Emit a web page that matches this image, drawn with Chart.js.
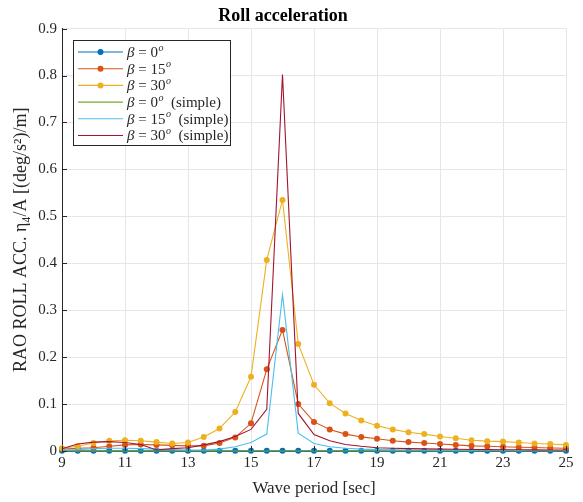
<!DOCTYPE html>
<html>
<head>
<meta charset="utf-8">
<script src="https://cdn.jsdelivr.net/npm/chart.js@4/dist/chart.umd.min.js"></script>
<style>
  html, body { margin: 0; padding: 0; background: #ffffff; }
  #c { display: block; }
</style>
</head>
<body>
<canvas id="c" width="583" height="502"></canvas>
<script>
// Wave periods [sec]
const periods = [9, 9.5, 10, 10.5, 11, 11.5, 12, 12.5, 13, 13.5, 14, 14.5, 15, 15.5, 16, 16.5,
                 17, 17.5, 18, 18.5, 19, 19.5, 20, 20.5, 21, 21.5, 22, 22.5, 23, 23.5, 24, 24.5, 25];

// Heading angles (deg)
const betaAngles = [0, 15, 30];

// Full model RAO, roll acceleration [(deg/s^2)/m]
const beta0 = [0.0003, 0.0003, 0.0003, 0.0003, 0.0003, 0.0003, 0.0003, 0.0003, 0.0003, 0.0003, 0.0003,
               0.0003, 0.0003, 0.0003, 0.0003, 0.0003, 0.0003, 0.0003, 0.0003, 0.0003, 0.0003, 0.0003,
               0.0003, 0.0003, 0.0003, 0.0003, 0.0003, 0.0003, 0.0003, 0.0003, 0.0003, 0.0003, 0.0003];
const beta15 = [0.004, 0.006, 0.007, 0.010, 0.013, 0.014, 0.013, 0.012, 0.011, 0.011, 0.017,
                0.029, 0.059, 0.174, 0.258, 0.100, 0.062, 0.046, 0.036, 0.030, 0.026, 0.022,
                0.019, 0.017, 0.015, 0.013, 0.011, 0.010, 0.009, 0.008, 0.0075, 0.0065, 0.006];
const beta30 = [0.006, 0.010, 0.017, 0.022, 0.023, 0.022, 0.019, 0.016, 0.018, 0.030, 0.048,
                0.083, 0.158, 0.407, 0.535, 0.228, 0.141, 0.102, 0.080, 0.065, 0.054, 0.046,
                0.040, 0.036, 0.031, 0.027, 0.023, 0.021, 0.020, 0.018, 0.016, 0.015, 0.013];

// Simplified model RAO
const beta0Simple = [0, 0, 0, 0, 0, 0, 0, 0, 0, 0, 0, 0, 0, 0, 0, 0, 0,
                     0, 0, 0, 0, 0, 0, 0, 0, 0, 0, 0, 0, 0, 0, 0, 0];
const beta15Simple = [0.002, 0.003, 0.005, 0.006, 0.006, 0.005, 0.004, 0.003, 0.002, 0.002, 0.004,
                      0.009, 0.018, 0.036, 0.333, 0.038, 0.016, 0.009, 0.006, 0.004, 0.003, 0.0025,
                      0.002, 0.002, 0.0018, 0.0016, 0.0015, 0.0014, 0.0013, 0.0012, 0.0011, 0.001, 0.001];
const beta30Simple = [0.005, 0.015, 0.019, 0.020, 0.018, 0.014, 0.002, 0.005, 0.007, 0.013, 0.020,
                      0.031, 0.046, 0.089, 0.802, 0.080, 0.035, 0.022, 0.014, 0.010, 0.007, 0.006,
                      0.005, 0.0045, 0.004, 0.0036, 0.0033, 0.003, 0.0028, 0.0026, 0.0024, 0.0022, 0.002];

// Axis ticks
const xTicks = [9, 11, 13, 15, 17, 19, 21, 23, 25];
const yTicks = [0, 0.1, 0.2, 0.3, 0.4, 0.5, 0.6, 0.7, 0.8, 0.9];

const colors = ['#0072BD', '#D95319', '#EDB120', '#77AC30', '#4DBEEE', '#A2142F'];
const SERIF = '"Liberation Serif", "DejaVu Serif", serif';
const AXIS_COLOR = '#262626';

const seriesDefs = [
  { values: beta0, angle: betaAngles[0], simple: false },
  { values: beta15, angle: betaAngles[1], simple: false },
  { values: beta30, angle: betaAngles[2], simple: false },
  { values: beta0Simple, angle: betaAngles[0], simple: true },
  { values: beta15Simple, angle: betaAngles[1], simple: true },
  { values: beta30Simple, angle: betaAngles[2], simple: true }
];

const datasets = seriesDefs.map((s, i) => ({
  label: 'β = ' + s.angle + '°' + (s.simple ? ' (simple)' : ''),
  angle: s.angle,
  simple: s.simple,
  data: periods.map((p, k) => ({ x: p, y: s.values[k] })),
  borderColor: colors[i],
  backgroundColor: colors[i],
  borderWidth: 1.1,
  pointRadius: s.simple ? 0 : 3,
  pointHoverRadius: s.simple ? 0 : 3,
  pointBorderWidth: 0,
  tension: 0,
  clip: false,
  order: seriesDefs.length - i   // later series are painted on top
}));

// Inward tick marks and the boxed legend
const decorations = {
  id: 'decorations',
  afterDatasetsDraw(chart) {
    const ctx = chart.ctx;
    const xs = chart.scales.x, ys = chart.scales.y;
    const area = chart.chartArea;
    ctx.save();
    ctx.strokeStyle = AXIS_COLOR;
    ctx.lineWidth = 1;
    ctx.beginPath();
    yTicks.forEach(v => {
      const y = Math.round(ys.getPixelForValue(v)) + 0.5;
      ctx.moveTo(area.left, y); ctx.lineTo(area.left + 5, y);
    });
    xTicks.forEach(v => {
      const x = Math.round(xs.getPixelForValue(v)) + 0.5;
      ctx.moveTo(x, area.bottom); ctx.lineTo(x, area.bottom - 5);
    });
    ctx.stroke();

    // legend box
    const bx = 73.5, by = 40.5, bw = 157, bh = 105;
    ctx.fillStyle = '#ffffff';
    ctx.fillRect(bx, by, bw, bh);
    ctx.strokeStyle = AXIS_COLOR;
    ctx.lineWidth = 1;
    ctx.strokeRect(bx, by, bw, bh);

    const rowH = 16.7;
    chart.data.datasets.forEach((ds, i) => {
      const y = by + 11.5 + i * rowH;
      ctx.strokeStyle = ds.borderColor;
      ctx.lineWidth = 1.1;
      ctx.beginPath();
      ctx.moveTo(78, y); ctx.lineTo(123, y);
      ctx.stroke();
      if (!ds.simple) {
        ctx.fillStyle = ds.backgroundColor;
        ctx.beginPath();
        ctx.arc(100.5, y, 3, 0, Math.PI * 2);
        ctx.fill();
      }
      // text: β = N^o (simple)
      ctx.fillStyle = AXIS_COLOR;
      ctx.textBaseline = 'middle';
      ctx.textAlign = 'left';
      let tx = 127;
      ctx.font = 'italic 15px ' + SERIF;
      ctx.fillText('β', tx, y + 1);
      tx += ctx.measureText('β').width;
      ctx.font = '15px ' + SERIF;
      const mid = ' = ' + ds.angle;
      ctx.fillText(mid, tx, y + 1);
      tx += ctx.measureText(mid).width;
      ctx.font = 'italic 10px ' + SERIF;
      ctx.fillText('o', tx + 0.5, y - 4);
      tx += ctx.measureText('o').width + 0.5;
      if (ds.simple) {
        ctx.font = '15px ' + SERIF;
        ctx.fillText('  (simple)', tx, y + 1);
      }
    });
    ctx.restore();
  }
};

new Chart(document.getElementById('c'), {
  type: 'line',
  data: { datasets },
  options: {
    responsive: false,
    animation: false,
    events: [],
    layout: { padding: { left: 0, right: 17, top: 0, bottom: 0 } },
    plugins: {
      legend: { display: false },
      tooltip: { enabled: false },
      title: {
        display: true,
        text: 'Roll acceleration',
        color: '#000000',
        font: { family: SERIF, size: 18, weight: 'bold' },
        padding: { top: 6, bottom: 1 }
      }
    },
    scales: {
      x: {
        type: 'linear',
        min: 9,
        max: 25,
        afterBuildTicks: s => { s.ticks = xTicks.map(v => ({ value: v })); },
        afterFit: s => { s.height = 51; },
        ticks: {
          color: AXIS_COLOR,
          font: { family: SERIF, size: 15 },
          padding: 3,
          maxRotation: 0,
          autoSkip: false,
          callback: v => String(v)
        },
        grid: { color: '#e6e6e6', lineWidth: 1, drawTicks: false },
        border: { color: AXIS_COLOR, width: 1 },
        title: {
          display: true,
          text: 'Wave period [sec]',
          color: AXIS_COLOR,
          font: { family: SERIF, size: 17 },
          padding: { top: 3, bottom: 3 }
        }
      },
      y: {
        type: 'linear',
        min: 0,
        max: 0.9,
        afterBuildTicks: s => { s.ticks = yTicks.map(v => ({ value: v })); },
        afterFit: s => { s.width = 62; },
        ticks: {
          color: AXIS_COLOR,
          font: { family: SERIF, size: 15 },
          padding: 5,
          autoSkip: false,
          callback: v => (v === 0 ? '0' : String(Math.round(v * 10) / 10))
        },
        grid: { color: '#e6e6e6', lineWidth: 1, drawTicks: false },
        border: { color: AXIS_COLOR, width: 1 },
        title: {
          display: true,
          text: 'RAO ROLL ACC. η₄/A [(deg/s²)/m]',
          color: AXIS_COLOR,
          font: { family: SERIF, size: 18 },
          padding: { top: 10, bottom: 0 }
        }
      }
    }
  },
  plugins: [decorations]
});
</script>
</body>
</html>
